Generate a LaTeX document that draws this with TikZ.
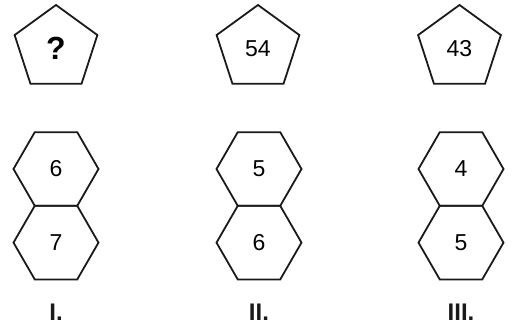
\documentclass[tikz,border=0pt]{standalone}
\usepackage{fontspec}
\setmainfont{Liberation Sans}
\usetikzlibrary{shapes.geometric,positioning}
\definecolor{ink}{HTML}{1A1A1A}
\tikzset{
  pent/.style={draw=ink, line width=1.8pt, regular polygon, regular polygon sides=5, minimum size=87pt, inner sep=0pt, outer sep=0pt, font=\fontsize{23}{25}\selectfont},
  hexa/.style={draw=ink, line width=1.8pt, regular polygon, regular polygon sides=6, minimum size=85pt, inner sep=0pt, outer sep=0pt, font=\fontsize{23}{25}\selectfont},
  numlabel/.style={font=\fontsize{24}{26}\selectfont\bfseries, text=ink}
}
\begin{document}
\begin{tikzpicture}[x=1pt,y=-1pt]
\useasboundingbox (0,0) rectangle (512,329);
% pentagons
\node[pent] (p1) at (56,48.5) {\textbf{\fontsize{32}{34}\selectfont ?}};
\node[pent] (p2) at (258,48.5) {54};
\node[pent] (p3) at (459.5,48.5) {43};
% hexagon pairs
\node[hexa] (h1) at (56,169) {6};
\node[hexa, below=0pt of h1] (h1b) {7};
\node[hexa] (h2) at (259,169) {5};
\node[hexa, below=0pt of h2] (h2b) {6};
\node[hexa] (h3) at (461,169) {4};
\node[hexa, below=0pt of h3] (h3b) {5};
% labels
\node[numlabel] (l1) at (56,312) {I.};
\node[numlabel] (l2) at (259,312) {II.};
\node[numlabel] (l3) at (461,312) {III.};
\end{tikzpicture}
\end{document}
